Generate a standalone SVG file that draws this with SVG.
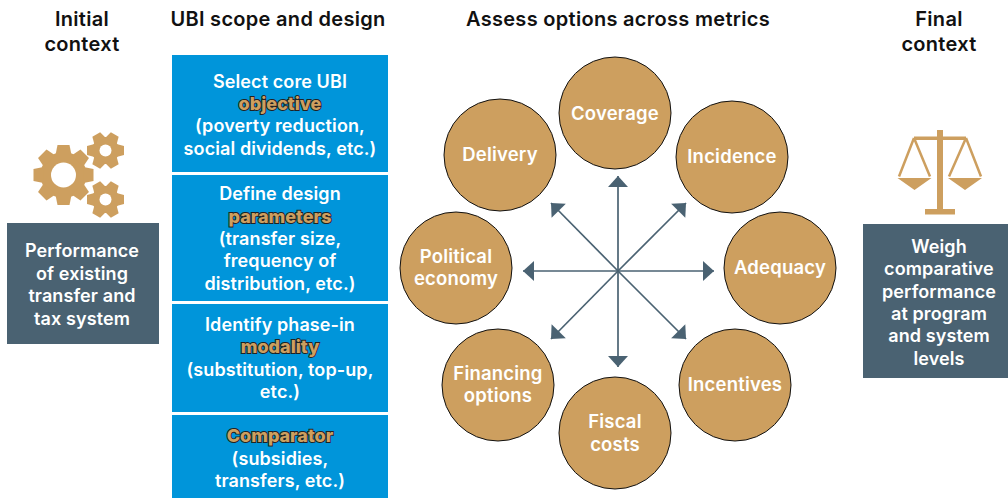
<svg xmlns="http://www.w3.org/2000/svg" width="1008" height="498" viewBox="0 0 1008 498">
<style>
text{font-family:"Inter","Liberation Sans",sans-serif;font-weight:600;text-anchor:middle}
.h{font-size:20px;letter-spacing:.3px;fill:#111}
.w{font-size:18px;letter-spacing:.1px;fill:#fff}
.n{font-size:18.500px;letter-spacing:.2px;fill:#fff}
.o{font-size:18px;font-weight:800;fill:#CD9F5F;stroke:#222;stroke-width:1.800px;paint-order:stroke}
.b{fill:#0095DA}
.s{fill:#4A6272}
.c{fill:#CD9F5F;stroke:#111;stroke-width:1}
.i{fill:#CD9F5F}
.a{stroke:#4A6272;stroke-width:1.700;fill:none;marker-end:url(#ah)}
</style>
<defs>
<marker id="ah" markerUnits="userSpaceOnUse" markerWidth="14" markerHeight="20" refX="12" refY="10" orient="auto"><path d="M1 0L12 10L1 20Z" fill="#4A6272"/></marker>
<g id="t8"><path d="M-6-30H6L8-20H-8Z"/></g>
<g id="t6"><path d="M-4.500-18.500H4.500L6.500-11H-6.500Z"/></g>
<g id="big" class="i"><circle r="23"/><use href="#t8"/><use href="#t8" transform="rotate(45)"/><use href="#t8" transform="rotate(90)"/><use href="#t8" transform="rotate(135)"/><use href="#t8" transform="rotate(180)"/><use href="#t8" transform="rotate(225)"/><use href="#t8" transform="rotate(270)"/><use href="#t8" transform="rotate(315)"/><circle r="12.500" fill="#fff"/></g>
<g id="small" class="i"><circle r="13.500"/><use href="#t6" transform="rotate(30)"/><use href="#t6" transform="rotate(90)"/><use href="#t6" transform="rotate(150)"/><use href="#t6" transform="rotate(210)"/><use href="#t6" transform="rotate(270)"/><use href="#t6" transform="rotate(330)"/><circle r="6" fill="#fff"/></g>
</defs>
<rect width="1008" height="498" fill="#fff"/>
<g id="headers">
<text class="h" x="82" y="26">Initial</text><text class="h" x="82" y="51">context</text>
<text class="h" x="278" y="26">UBI scope and design</text>
<text class="h" x="618" y="26">Assess options across metrics</text>
<text class="h" x="939" y="26">Final</text><text class="h" x="939" y="51">context</text>
</g>
<g id="gears"><use href="#big" x="63.500" y="175"/><use href="#small" x="105.500" y="150.500"/><use href="#small" x="105.500" y="199.500"/></g>
<g id="node-initial"><rect class="s" x="7" y="223" width="152" height="121"/>
<text class="w" x="82" y="257">Performance</text><text class="w" x="82" y="280">of existing</text><text class="w" x="82" y="302">transfer and</text><text class="w" x="82" y="325">tax system</text></g>
<g id="node-objective"><rect class="b" x="172" y="55" width="216" height="117"/>
<text class="w" x="280" y="88">Select core UBI</text><text class="o" x="280" y="110">objective</text><text class="w" x="280" y="132">(poverty reduction,</text><text class="w" x="280" y="155">social dividends, etc.)</text></g>
<g id="node-parameters"><rect class="b" x="172" y="175" width="216" height="126"/>
<text class="w" x="280" y="200">Define design</text><text class="o" x="280" y="223">parameters</text><text class="w" x="280" y="245">(transfer size,</text><text class="w" x="280" y="267">frequency of</text><text class="w" x="280" y="290">distribution, etc.)</text></g>
<g id="node-modality"><rect class="b" x="172" y="304" width="216" height="108"/>
<text class="w" x="280" y="331">Identify phase-in</text><text class="o" x="280" y="353">modality</text><text class="w" x="280" y="376">(substitution, top-up,</text><text class="w" x="280" y="398">etc.)</text></g>
<g id="node-comparator"><rect class="b" x="172" y="415" width="216" height="83"/>
<text class="o" x="280" y="442">Comparator</text><text class="w" x="280" y="465">(subsidies,</text><text class="w" x="280" y="487">transfers, etc.)</text></g>
<g id="connectors">
<path class="a" d="M618 271V176"/><path class="a" d="M618 271V367"/><path class="a" d="M618 271H523"/><path class="a" d="M618 271H714"/>
<path class="a" d="M618 271L551 203"/><path class="a" d="M618 271L686 203"/><path class="a" d="M618 271L551 339"/><path class="a" d="M618 271L686 339"/>
</g>
<g id="node-coverage"><circle class="c" cx="615" cy="113" r="56"/><text class="n" x="615" y="120">Coverage</text></g>
<g id="node-incidence"><circle class="c" cx="732" cy="157" r="56"/><text class="n" x="732" y="163">Incidence</text></g>
<g id="node-adequacy"><circle class="c" cx="780" cy="268" r="56"/><text class="n" x="780" y="274">Adequacy</text></g>
<g id="node-incentives"><circle class="c" cx="735" cy="385" r="56"/><text class="n" x="735" y="391">Incentives</text></g>
<g id="node-fiscal"><circle class="c" cx="615" cy="433" r="56"/><text class="n" x="615" y="428">Fiscal</text><text class="n" x="615" y="451">costs</text></g>
<g id="node-financing"><circle class="c" cx="498" cy="385" r="56"/><text class="n" x="498" y="380">Financing</text><text class="n" x="498" y="402">options</text></g>
<g id="node-political"><circle class="c" cx="456" cy="268" r="56"/><text class="n" x="456" y="263">Political</text><text class="n" x="456" y="285">economy</text></g>
<g id="node-delivery"><circle class="c" cx="500" cy="155" r="56"/><text class="n" x="500" y="161">Delivery</text></g>
<g id="scale"><path class="i" d="M937 130H943V209H955V214.500H925V209H937ZM914 136.500H966V140H914Z"/>
<path d="M914 138L899 176.500M914 138L930 176.500M966 138L949 176.500M966 138L981 176.500" stroke="#CD9F5F" stroke-width="2.500" fill="none"/>
<path class="i" d="M897.500 178H931.500L914.500 190ZM948 178H982L965 190Z"/></g>
<g id="node-final"><rect class="s" x="863" y="224" width="145" height="154"/>
<text class="w" x="939" y="253">Weigh</text><text class="w" x="939" y="275">comparative</text><text class="w" x="939" y="298">performance</text><text class="w" x="939" y="320">at program</text><text class="w" x="939" y="342">and system</text><text class="w" x="939" y="365">levels</text></g>
</svg>
